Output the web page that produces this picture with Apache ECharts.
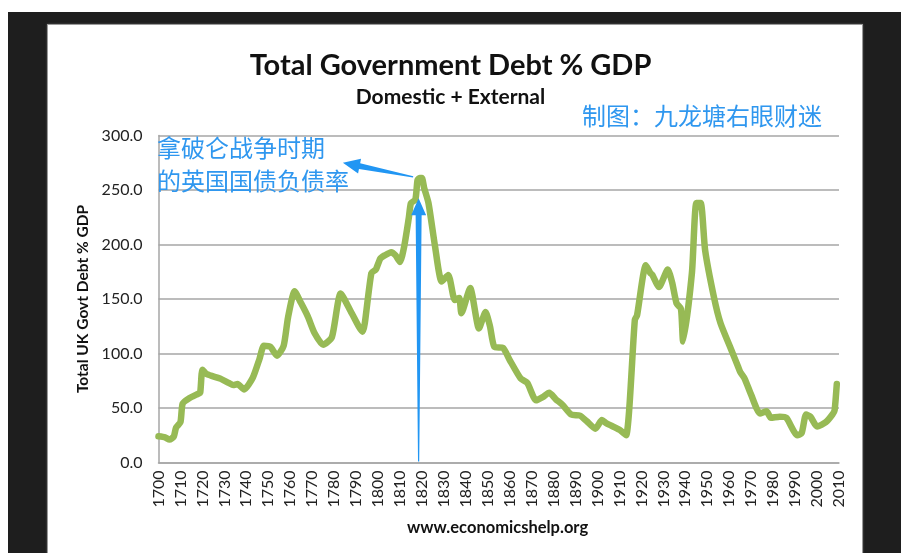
<!DOCTYPE html>
<html><head><meta charset="utf-8">
<script src="https://cdn.jsdelivr.net/npm/echarts@6/dist/echarts.min.js"></script>
<style>
html,body{margin:0;padding:0;background:#fff;width:901px;height:553px;overflow:hidden;}
#frame{position:absolute;left:8px;top:12px;width:893px;height:541px;background:#1e1e1e;}
#panel{position:absolute;left:47px;top:24px;width:814px;height:529px;background:#fff;border:1px solid #9a9a9a;border-bottom:none;box-shadow:0 0 2px #555;}
#chart{position:absolute;left:0;top:0;width:901px;height:553px;}
</style></head>
<body>
<div id="frame"></div><div id="panel"></div>
<div id="chart"></div>
<script>
const years = [1700,1703,1705,1707,1708,1710,1711,1714,1718,1719,1720,1722,1728,1732,1734,1736,1739,1743,1746,1748,1751,1754,1757,1759,1762,1765,1768,1771,1775,1779,1783,1788,1793,1794,1797,1799,1801,1803,1806,1808,1810,1812,1814,1815,1817,1818,1819,1820,1821,1823,1826,1829,1832,1835,1837,1838,1842,1846,1849,1851,1853,1857,1860,1865,1868,1872,1875,1878,1881,1884,1888,1892,1895,1899,1902,1904,1906,1910,1913,1917,1918,1922,1924,1925,1928,1932,1934,1936,1938,1939,1943,1945,1947,1949,1953,1956,1961,1964,1965,1967,1970,1974,1977,1979,1983,1986,1991,1993,1995,1997,2000,2004,2007,2008,2009];
const debt = [24,23,21,24,32,37,54,59,63,64,85,81,77,73,71,72,67,78,95,107,106,98,107,133,157,146,134,119,108,115,155,137,120,128,174,177,187,190,193,190,184,199,224,238,241,259,261,261,252,238,198,166,172,149,151,137,160,123,138,125,106,105,94,77,73,57,60,64,58,53,44,43,38,31,39,36,34,30,25,131,135,181,174,172,161,177,165,146,141,111,174,238,238,195,152,128,103,88,83,77,62,45,47,41,42,41,25,27,44,42,33,37,44,48,72];
const yTicks = [0,50,100,150,200,250,300];
const xMin = 1700, xMax = 2010, xStep = 10;
// annotation arrows: [tailYear, tailValue, headYear, headValue]
const napArrow = [1816, 262, 1784, 275];
const upArrow = [1818.5, 1, 1818.5, 242.5];

const chart = echarts.init(document.getElementById('chart'));
const blue = '#2f97ef';
const arrowBlue = '#2196f3';

function arrowItem(params, api) {
  const p0 = api.coord([api.value(0), api.value(1)]);
  const p1 = api.coord([api.value(2), api.value(3)]);
  const dx = p1[0]-p0[0], dy = p1[1]-p0[1];
  const len = Math.sqrt(dx*dx+dy*dy);
  const ux = dx/len, uy = dy/len, nx = -uy, ny = ux;
  const tw = 1.2, sw = 6, hw = 15, hl = 17;
  const bx = p1[0]-ux*hl, by = p1[1]-uy*hl;
  const pts = [
    [p0[0]+nx*tw/2, p0[1]+ny*tw/2],
    [bx+nx*sw/2, by+ny*sw/2],
    [bx+nx*hw/2, by+ny*hw/2],
    [p1[0], p1[1]],
    [bx-nx*hw/2, by-ny*hw/2],
    [bx-nx*sw/2, by-ny*sw/2],
    [p0[0]-nx*tw/2, p0[1]-ny*tw/2]
  ];
  return {type:'polygon', shape:{points:pts}, style:{fill:arrowBlue}};
}

const tStyle = (size, weight, color, family) => ({fontFamily:family, fontWeight:weight, fontSize:size, color:color});
chart.setOption({
  backgroundColor: 'transparent',
  animation: false,
  title: [
    {text:'Total Government Debt % GDP', left:'center', top:51, padding:0, textStyle:tStyle(29,'bold','#111','Lato')},
    {text:'Domestic + External', left:'center', top:87, padding:0, textStyle:tStyle(21,'bold','#111','Lato')},
    {text:'制图：九龙塘右眼财迷', left:582, top:103.5, padding:0, textStyle:tStyle(24,'normal',blue,'Noto Sans CJK SC')},
    {text:'拿破仑战争时期', left:157, top:136, padding:0, textStyle:tStyle(24,'normal',blue,'Noto Sans CJK SC')},
    {text:'的英国国债负债率', left:157, top:169, padding:0, textStyle:tStyle(24,'normal',blue,'Noto Sans CJK SC')},
    {text:'www.economicshelp.org', left:407, top:519.5, padding:0, textStyle:tStyle(16.5,'bold','#111','Lato')}
  ],
  grid: {left:158.5, right:62, top:135.5, bottom:90.5, containLabel:false},
  xAxis: {
    type:'value', min:xMin, max:xMax, interval:xStep,
    axisLine:{show:true, lineStyle:{color:'#a6a6a6', width:1.5}},
    axisTick:{show:false},
    splitLine:{show:false},
    axisLabel:{rotate:90, margin:8, fontFamily:'Lato', fontSize:16, color:'#222', formatter:v=>String(v)}
  },
  yAxis: {
    type:'value', min:yTicks[0], max:yTicks[yTicks.length-1], interval:50,
    name:'Total UK Govt Debt % GDP', nameLocation:'middle', nameRotate:90, nameGap:64,
    nameTextStyle:{fontFamily:'Lato', fontWeight:'bold', fontSize:15.5, color:'#111'},
    axisLine:{show:true, lineStyle:{color:'#a6a6a6', width:1.5}},
    axisTick:{show:false},
    splitLine:{show:true, lineStyle:{color:'#a6a6a6', width:1.5}},
    axisLabel:{margin:16, fontFamily:'Lato', fontSize:16, color:'#222', formatter:v=>v.toFixed(1)}
  },
  series: [{
    type:'line', data: years.map((y,i)=>[y, debt[i]]),
    showSymbol:false, smooth:0.2,
    lineStyle:{color:'#97ba55', width:6.5, cap:'round', join:'round'},
    z:3
  },{
    type:'custom', renderItem: arrowItem, z:5, silent:true,
    encode:{x:[0,2], y:[1,3]},
    data:[napArrow, upArrow]
  }]
});
</script>
</body></html>
